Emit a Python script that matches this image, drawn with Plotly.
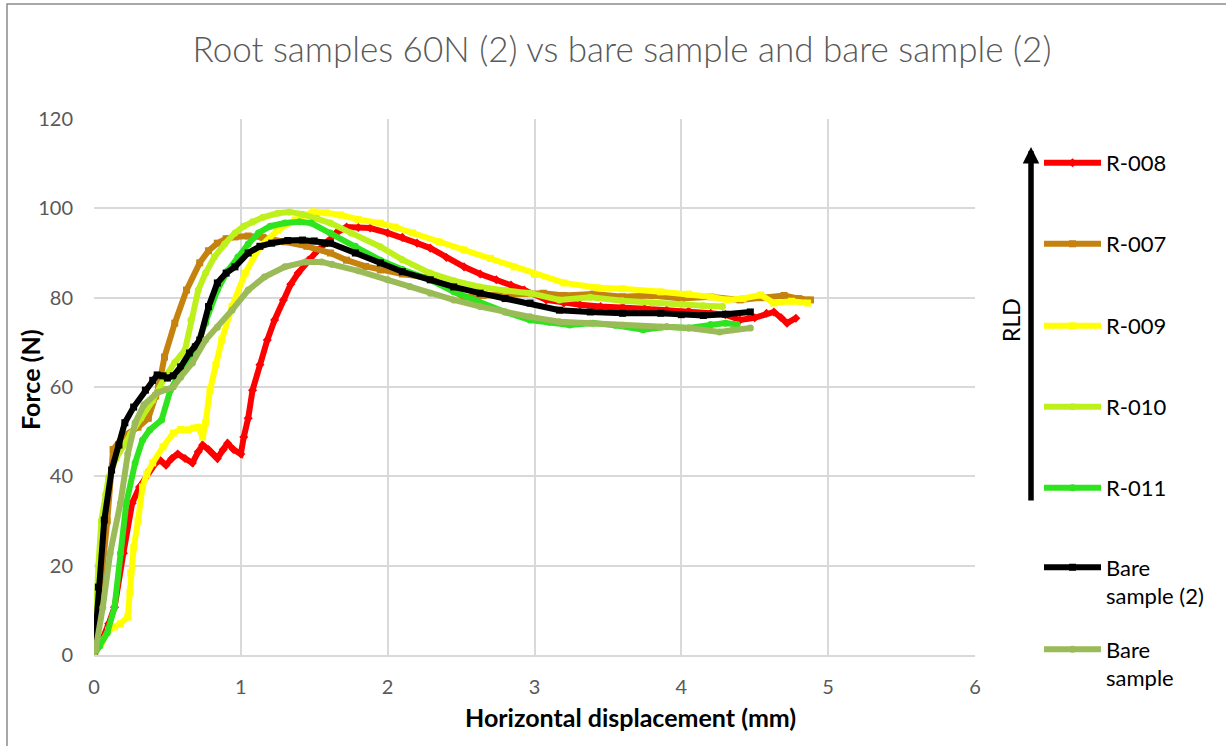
import plotly.graph_objects as go

# ---------------- data ----------------
r008_x = [0, 0.05, 0.10, 0.14, 0.20, 0.26, 0.31, 0.38, 0.42, 0.45, 0.49, 0.53, 0.57, 0.62, 0.67, 0.71, 0.74, 0.78,
          0.81, 0.84, 0.88, 0.91, 0.95, 1.0, 1.02, 1.05, 1.08, 1.13, 1.18, 1.23, 1.29, 1.34, 1.39, 1.46, 1.52, 1.59,
          1.65, 1.72, 1.80, 1.88, 2.0, 2.1, 2.2, 2.29, 2.4, 2.52, 2.63, 2.74, 2.84, 2.93, 3.08, 3.2, 3.31, 3.45, 3.6,
          3.75, 3.9, 4.05, 4.2, 4.3, 4.4, 4.5, 4.58, 4.63, 4.68, 4.72, 4.78]
r008_y = [0, 3, 7, 10.7, 22.8, 34, 37.6, 41.4, 43, 43.6, 42.5, 44, 45, 44, 43, 45.5, 47, 46, 45, 44, 46, 47.4, 46, 45,
          48.8, 53, 59.3, 65, 70.5, 75, 79.5, 83, 85.5, 88.4, 90.5, 92.5, 94.5, 95.8, 95.7, 95.6, 94.5, 93.5, 92.2,
          91.1, 89, 86.9, 85.3, 84, 82.8, 81.7, 79.5, 78.8, 78.4, 78.0, 77.9, 77.5, 77.2, 77.0, 76.5, 76.2, 75.0,
          75.5, 76.5, 76.8, 75.5, 74.3, 75.4]

r007_x = [0, 0.03, 0.06, 0.09, 0.13, 0.2, 0.3, 0.37, 0.42, 0.44, 0.48, 0.55, 0.63, 0.72, 0.78, 0.84, 0.9, 0.96, 1.05,
          1.15, 1.3, 1.45, 1.61, 1.72, 1.85, 1.95, 2.1, 2.29, 2.4, 2.52, 2.65, 2.8, 2.95, 3.06, 3.2, 3.4, 3.6, 3.8,
          4.0, 4.2, 4.4, 4.55, 4.7, 4.8, 4.88]
r007_y = [0, 10, 18.4, 30, 46, 49, 51, 53, 58, 60, 66.7, 74.3, 81.7, 87.8, 90.5, 92.2, 93.2, 93.6, 93.8, 93.5, 92.5,
          91.5, 90, 88.4, 87, 86.2, 85.3, 84.4, 82.5, 80.1, 80.5, 80.8, 81, 81, 80.5, 80.8, 80.2, 80.5, 79.8, 80.2,
          79.5, 80, 80.5, 79.8, 79.5]

r009_x = [0, 0.05, 0.10, 0.14, 0.18, 0.23, 0.245, 0.25, 0.27, 0.30, 0.33, 0.36, 0.40, 0.47, 0.54, 0.59, 0.64, 0.68,
          0.71, 0.74, 0.76, 0.79, 0.83, 0.87, 0.94, 1.03, 1.13, 1.25, 1.37, 1.49, 1.58, 1.68, 1.8, 1.95, 2.05, 2.17,
          2.35, 2.52, 2.7, 2.86, 3.0, 3.2, 3.43, 3.6, 3.86, 4.05, 4.2, 4.31, 4.42, 4.54, 4.63, 4.75, 4.86]
r009_y = [0, 3, 5.5, 6.3, 7, 8.5, 14, 18.4, 24, 30, 37.6, 40.5, 43, 46.6, 49.7, 50.5, 50.4, 50.8, 51, 48.8, 52, 59.3,
          65, 70.5, 78, 85.5, 91.4, 95.1, 97.4, 99.2, 99.0, 98.5, 97.5, 96.7, 95.8, 94.5, 92.5, 90.7, 88.8, 86.9,
          85.2, 83.3, 82.2, 82.0, 81.3, 80.8, 80.2, 79.5, 79.8, 80.6, 78.8, 79.2, 78.8]

r010_x = [0, 0.01, 0.03, 0.05, 0.08, 0.10, 0.15, 0.20, 0.25, 0.32, 0.40, 0.48, 0.55, 0.62, 0.66, 0.71, 0.76, 0.82,
          0.89, 0.96, 1.02, 1.08, 1.15, 1.25, 1.33, 1.42, 1.52, 1.61, 1.75, 1.95, 2.1, 2.29, 2.45, 2.63, 2.8, 2.97,
          3.17, 3.38, 3.6, 3.8, 4.0, 4.15, 4.28]
r010_y = [0, 8, 20, 30, 36, 39.8, 44, 47, 49.5, 53, 57, 62, 65.5, 68.3, 75, 81.7, 85.5, 89.1, 92, 94.5, 96, 97, 98,
          98.9, 99.2, 98.7, 97.8, 96.7, 94.5, 91.4, 88.5, 85.5, 83.8, 82.4, 81.6, 81, 79.5, 80.1, 79.3, 78.8, 78.5,
          78.2, 78]

r011_x = [0, 0.04, 0.09, 0.14, 0.18, 0.22, 0.28, 0.33, 0.38, 0.46, 0.52, 0.60, 0.69, 0.76, 0.84, 0.91, 0.98, 1.05,
          1.12, 1.2, 1.30, 1.40, 1.48, 1.61, 1.78, 1.95, 2.1, 2.29, 2.45, 2.63, 2.8, 2.97, 3.1, 3.24, 3.4, 3.55, 3.74,
          3.9, 4.05, 4.2, 4.3, 4.38]
r011_y = [0, 2, 4.9, 10.7, 22.8, 34, 43, 48.1, 50.4, 52.6, 59.3, 64, 68.3, 74.3, 81.7, 86, 89.1, 92, 94.5, 96, 96.7,
          97, 96.7, 94.5, 91.5, 88.4, 86.3, 84, 81.3, 78.8, 76.8, 75, 74.5, 73.9, 74.3, 73.8, 72.8, 73.5, 73.2, 74,
          74.3, 74]

bare2_x = [0, 0.01, 0.03, 0.07, 0.12, 0.17, 0.21, 0.27, 0.35, 0.40, 0.43, 0.47, 0.50, 0.54, 0.59, 0.65, 0.69, 0.72,
           0.78, 0.84, 0.90, 0.96, 1.05, 1.13, 1.21, 1.32, 1.42, 1.50, 1.57, 1.61, 1.78, 1.95, 2.1, 2.29, 2.45, 2.63,
           2.8, 2.97, 3.17, 3.38, 3.6, 3.86, 4.0, 4.15, 4.3, 4.47]
bare2_y = [0, 5, 15.2, 30.2, 41.4, 47, 52, 55.5, 59.3, 61.5, 62.7, 62.5, 62, 62.5, 64.5, 67.6, 69, 70.5, 78, 83.3,
           85.5, 86.9, 90, 91.5, 92.2, 92.8, 92.9, 92.7, 92.2, 92.2, 90, 87.8, 85.8, 84, 82.4, 81, 79.8, 78.8, 77.2,
           76.8, 76.5, 76.5, 76.2, 76, 76.3, 76.8]

bare_x = [0, 0.01, 0.06, 0.11, 0.18, 0.23, 0.28, 0.34, 0.43, 0.49, 0.54, 0.59, 0.67, 0.76, 0.84, 0.94, 1.05, 1.16,
          1.30, 1.44, 1.55, 1.62, 1.8, 2.0, 2.15, 2.29, 2.45, 2.63, 2.8, 2.97, 3.17, 3.38, 3.6, 3.86, 4.05, 4.26,
          4.35, 4.47]
bare_y = [0, 1.1, 10.7, 22.8, 34, 45, 52, 56, 58.7, 59.5, 60, 62.2, 65.4, 70.5, 73.4, 77.2, 81.7, 84.6, 86.9, 88,
          88, 87.5, 86, 84, 82.5, 81, 79.5, 78, 76.8, 75.7, 74.6, 74.3, 73.8, 73.4, 73.2, 72.3, 72.8, 73.2]

series_names = ["R-008", "R-007", "R-009", "R-010", "R-011", "Bare<br>sample (2)", "Bare<br>sample"]
series_x = [r008_x, r007_x, r009_x, r010_x, r011_x, bare2_x, bare_x]
series_y = [r008_y, r007_y, r009_y, r010_y, r011_y, bare2_y, bare_y]
series_colors = ["#FF0000", "#C5820F", "#FFFF00", "#BEF01C", "#2EE41E", "#000000", "#9BBB59"]
series_symbols = ["diamond", "square", "square", "circle", "circle", "square", "circle"]
legend_py = [163, 244, 326, 407, 488, 582, 664]

title_text = "Root samples 60N (2) vs bare sample and bare sample (2)"
x_title = "Horizontal displacement (mm)"
y_title = "Force (N)"

W, H = 1226, 746
L, R, T, B = 94, 251, 119, 91
FONT = "Lato"
ITEMW = 57


def px2x(px):
    return (px - L) / (W - L - R)


def py2y(py):
    return (H - B - py) / (H - T - B)


fig = go.Figure()
layout_legends = {}
for i, (nm, xs, ys, col, sym) in enumerate(zip(series_names, series_x, series_y, series_colors, series_symbols)):
    lg = "legend" if i == 0 else f"legend{i + 1}"
    fig.add_trace(go.Scatter(
        x=xs, y=ys, name=nm, mode="lines+markers",
        line=dict(color=col, width=6),
        marker=dict(color=col, size=7, symbol=sym),
        legend=lg, showlegend=True,
    ))
    layout_legends[lg] = dict(
        xref="container", yref="container",
        x=1039 / W, y=1 - legend_py[i] / H,
        xanchor="left", yanchor="middle", valign="top",
        itemwidth=ITEMW,
        bgcolor="rgba(0,0,0,0)", borderwidth=0,
        font=dict(family=FONT, size=22, color="#000000"),
    )

fig.update_layout(
    width=W, height=H,
    margin=dict(l=L, r=R, t=T, b=B),
    paper_bgcolor="white", plot_bgcolor="white",
    font=dict(family=FONT, color="#595959"),
    title=dict(text=title_text, x=622 / W, y=1 - 50 / H, xref="container", yref="container",
               xanchor="center", yanchor="middle",
               font=dict(family=FONT, size=35, weight=300, color="#595959")),
    **layout_legends,
)

fig.update_xaxes(range=[0, 6], dtick=1, tick0=0, showgrid=True, gridcolor="#D9D9D9", gridwidth=1.5,
                 zeroline=False, showline=True, linecolor="#D9D9D9", linewidth=1.5, ticks="",
                 ticklabelstandoff=13, tickfont=dict(family=FONT, size=20, color="#595959"))
fig.update_yaxes(range=[0, 120], dtick=20, tick0=0, showgrid=True, gridcolor="#D9D9D9", gridwidth=1.5,
                 zeroline=False, showline=False, ticks="",
                 ticklabelstandoff=20, tickfont=dict(family=FONT, size=20, color="#595959"))

annotations = [
    dict(text=f"<b>{x_title}</b>", x=px2x(630), y=py2y(717), xref="paper", yref="paper",
         showarrow=False, xanchor="center", yanchor="middle", font=dict(family=FONT, size=25, color="#000000")),
    dict(text=f"<b>{y_title}</b>", x=px2x(30), y=py2y(380), xref="paper", yref="paper",
         showarrow=False, textangle=-90, xanchor="center", yanchor="middle",
         font=dict(family=FONT, size=25, color="#000000")),
    dict(text="RLD", x=px2x(1011), y=py2y(320), xref="paper", yref="paper",
         showarrow=False, textangle=-90, xanchor="center", yanchor="middle",
         font=dict(family=FONT, size=23, color="#000000")),
    dict(text="", x=px2x(1031), y=py2y(147), xref="paper", yref="paper",
         ax=0, ay=355, axref="pixel", ayref="pixel", showarrow=True,
         arrowhead=2, arrowsize=0.6, arrowwidth=5.5, arrowcolor="#000000"),
]
fig.update_layout(annotations=annotations)

# outer chart frame
fig.add_shape(type="rect", xref="paper", yref="paper",
              x0=px2x(7), x1=px2x(1240), y0=py2y(760), y1=py2y(4),
              line=dict(color="#8C8C8C", width=1.5), fillcolor="rgba(0,0,0,0)", layer="below")

fig.write_html("out.html")
